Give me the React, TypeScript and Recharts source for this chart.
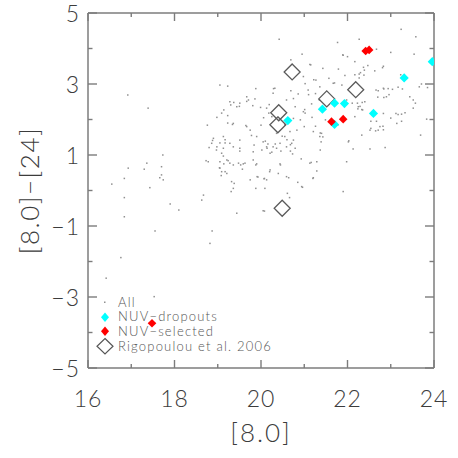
import { Legend, Scatter, ScatterChart, XAxis, YAxis } from "recharts";

// [8.0] vs [8.0]-[24] colour
const allPoints = [
  [20.42, 4.26], [21.77, 4.17], [22.27, 4.26], [23.24, 4.54], [23.58, 4.33], [20.95, 3.84], [23.54, 3.84], [23.0, 3.89],
  [21.89, 3.82], [22.0, 3.77], [22.67, 3.98], [22.17, 3.63], [20.69, 3.68], [21.13, 3.55], [22.81, 3.46], [21.79, 3.42],
  [21.43, 3.44], [22.39, 3.39], [22.3, 3.32], [20.98, 3.21], [21.27, 3.11], [21.57, 3.16], [21.94, 3.24], [22.38, 3.25],
  [19.05, 2.97], [19.23, 2.94], [19.88, 2.87], [20.32, 2.88], [20.28, 2.74], [20.69, 2.81], [20.86, 2.72], [21.09, 2.83],
  [21.36, 2.92], [21.67, 3.02], [21.87, 2.97], [22.66, 2.83], [22.83, 2.88], [22.94, 2.87], [23.04, 2.85], [23.17, 2.91],
  [23.85, 2.9], [22.7, 2.63], [22.9, 2.64], [23.52, 2.55], [19.67, 2.64], [19.71, 2.55], [19.86, 2.58], [19.28, 2.5],
  [19.51, 2.46], [19.44, 2.36], [19.14, 2.27], [18.98, 2.06], [19.36, 1.89], [18.76, 1.84], [17.39, 2.32], [16.92, 2.69],
  [19.99, 2.34], [20.13, 2.32], [20.59, 2.55], [20.79, 2.36], [20.98, 2.22], [21.17, 2.44], [21.35, 2.55], [21.98, 2.55],
  [22.25, 2.36], [22.35, 2.27], [22.4, 2.5], [22.83, 2.17], [23.12, 2.17], [23.25, 2.15], [23.33, 2.19], [23.52, 2.32],
  [23.14, 1.89], [22.75, 1.8], [22.71, 1.7], [22.54, 1.75], [22.33, 1.56], [22.52, 1.7], [23.69, 1.56], [22.87, 1.21],
  [22.52, 1.17], [22.13, 1.17], [22.02, 1.37], [21.98, 0.81], [21.9, -0.03], [21.4, 1.61], [21.36, 1.52], [21.39, 1.37],
  [21.21, 1.66], [21.0, 1.8], [21.29, 0.81], [21.13, 0.77], [21.21, 0.36], [20.94, 0.11], [20.61, -0.08], [20.59, 0.39],
  [20.4, 0.48], [20.44, 0.75], [20.21, 0.58], [20.13, 0.3], [19.91, 0.39], [19.75, 0.3], [19.9, 0.75], [19.59, 0.75],
  [19.48, 0.77], [19.36, 0.72], [19.28, 0.77], [19.21, 0.86], [19.21, 0.48], [19.09, 0.53], [19.05, 0.63], [19.32, 0.25],
  [19.36, 0.06], [20.09, 0.06], [19.82, 0.86], [19.67, 1.8], [19.75, 1.7], [19.9, 1.52], [20.05, 1.37], [20.13, 1.23],
  [20.21, 1.05], [20.36, 1.19], [20.55, 1.52], [20.59, 1.23], [20.71, 1.33], [20.79, 1.19], [20.75, 1.42], [20.44, 1.33],
  [20.28, 1.23], [20.02, 1.14], [19.82, 1.09], [19.51, 1.19], [19.36, 1.23], [19.13, 1.19], [19.09, 1.05], [18.9, 1.47],
  [18.86, 1.33], [18.98, 1.23], [19.13, 1.52], [19.28, 1.33], [19.51, 1.42], [18.78, 0.81], [19.05, 0.81], [18.67, -0.13],
  [18.63, -0.27], [19.44, -0.64], [20.05, -0.57], [17.9, -0.38], [18.1, -0.55], [17.7, 0.44], [17.74, 0.3], [17.73, 1.0],
  [17.7, 0.67], [17.36, 0.77], [17.3, 0.6], [17.43, 0.08], [16.93, 0.63], [16.84, 0.34], [16.55, 0.18], [16.84, -0.2],
  [16.84, -0.74], [20.55, 1.85], [20.67, 1.66], [20.83, 1.7], [20.36, 1.61], [20.25, 2.08], [20.75, 2.03], [22.17, 2.08],
  [23.44, 2.64], [23.66, 2.92], [17.55, -1.14], [18.87, -1.14], [18.82, -1.49], [16.76, -1.89], [16.42, -2.47],
  [17.53, -2.99], [17.66, 0.36], [18.8, 1.21], [18.97, 1.14], [19.51, 1.11], [19.84, 1.28], [19.13, 0.97], [18.73, 0.84],
  [19.24, 0.84], [19.14, 0.75], [19.53, 0.72], [19.63, 0.77], [19.88, 0.72], [19.04, 0.64], [19.17, 0.53], [19.57, 0.6],
  [19.08, 0.42], [19.93, 0.38], [20.07, 0.33], [19.38, 0.2], [19.31, -0.03], [19.88, 0.06], [20.14, 1.19], [20.25, 1.08],
  [20.46, 1.11], [20.68, 1.11], [20.73, 1.03], [21.37, 1.14], [20.93, 0.89], [21.16, 0.79], [20.45, 0.72], [20.2, 0.53],
  [21.29, 0.55], [20.08, 0.34], [20.64, 0.36], [21.2, 0.34], [20.85, 0.23], [20.96, 0.09], [20.66, -0.2], [20.08, -0.58],
  [19.37, 2.48], [19.67, 2.51], [19.3, 2.41], [19.5, 2.37], [19.81, 2.39], [19.09, 2.18], [19.23, 2.11], [20.06, 2.05],
  [19.23, 1.9], [19.34, 1.86], [19.65, 1.83], [20.0, 1.84], [19.78, 1.55], [18.88, 1.41], [19.17, 1.43], [19.05, 1.34],
  [19.17, 1.34], [21.9, 3.81], [21.15, 3.54], [21.7, 3.03], [21.02, 3.01], [21.22, 3.12], [20.29, 2.87], [20.75, 2.59],
  [21.1, 2.7], [21.26, 2.73], [21.01, 2.28], [20.19, 2.42], [20.18, 2.18], [20.91, 1.99], [21.02, 2.18], [21.18, 2.06],
  [21.49, 1.99], [21.26, 1.81], [21.37, 1.62], [21.43, 1.51], [20.6, 1.43], [20.49, 1.53], [20.1, 1.39], [20.16, 1.31],
  [20.33, 1.31], [20.68, 1.29], [22.03, 1.4], [21.78, 1.85], [22.47, 3.52], [22.83, 3.5], [22.37, 3.47], [22.63, 3.37],
  [22.17, 3.26], [22.27, 3.28], [22.27, 3.17], [23.23, 3.26], [22.84, 2.86], [23.27, 2.86], [22.71, 2.81], [22.96, 2.7],
  [23.71, 3.0], [22.84, 2.62], [22.11, 2.46], [22.23, 2.46], [22.34, 2.48], [22.29, 2.37], [22.24, 2.3], [22.33, 2.28],
  [23.57, 2.46], [23.17, 2.14], [23.0, 2.04], [23.25, 1.95], [22.54, 1.95], [22.67, 1.95], [22.82, 1.81], [23.83, 2.01],
  [22.65, 1.68], [22.83, 1.71],
];

const dropouts = [
  [20.62, 1.97], [21.42, 2.29], [21.7, 2.46], [21.93, 2.45], [21.7, 1.86], [22.6, 2.17], [23.31, 3.17], [23.96, 3.63],
];

const selected = [[21.63, 1.94], [21.9, 2.01], [22.42, 3.93], [22.5, 3.96], [17.48, -3.74]];

const rigopoulou = [
  [20.72, 3.34], [20.41, 2.19], [20.39, 1.85], [20.49, -0.5], [21.52, 2.58], [22.19, 2.84],
];

const xTicks = [16, 17, 18, 19, 20, 21, 22, 23, 24];
const xLabeled = [16, 18, 20, 22, 24];
const yTicks = [-5, -4, -3, -2, -1, 0, 1, 2, 3, 4, 5];
const yLabeled = [-5, -3, -1, 1, 3, 5];

const legendLabels = ["All", "NUV\u2212dropouts", "NUV\u2212selected", "Rigopoulou et al. 2006"];

const toXY = (pts: number[][]) => pts.map(([x, y]) => ({ x, y }));

const font = "Lato, 'DejaVu Sans', sans-serif";
const frame = "#7c7c7c";
const ink = "#3c3c3c";

const fmt = (v: number) => (v < 0 ? `\u2212${-v}` : `${v}`);

function BottomTick(props: any) {
  const { x, y, payload } = props;
  const major = xLabeled.includes(payload.value);
  return (
    <g>
      <line x1={x} y1={y} x2={x} y2={y - (major ? 8 : 4)} stroke={frame} strokeWidth={1.4} />
      {major && (
        <text x={x} y={y + 39} textAnchor="middle" fontFamily={font} fontWeight={300} fontSize={23} fill={ink} letterSpacing={1}>
          {fmt(payload.value)}
        </text>
      )}
    </g>
  );
}

function TopTick(props: any) {
  const { x, y, payload } = props;
  const major = xLabeled.includes(payload.value);
  return <line x1={x} y1={y} x2={x} y2={y + (major ? 8 : 4)} stroke={frame} strokeWidth={1.4} />;
}

function LeftTick(props: any) {
  const { x, y, payload } = props;
  const major = yLabeled.includes(payload.value);
  return (
    <g>
      <line x1={x} y1={y} x2={x + (major ? 9 : 4.5)} y2={y} stroke={frame} strokeWidth={1.4} />
      {major && (
        <text x={x - 8} y={y + 8.5} textAnchor="end" fontFamily={font} fontWeight={300} fontSize={23} fill={ink} letterSpacing={1}>
          {fmt(payload.value)}
        </text>
      )}
    </g>
  );
}

function RightTick(props: any) {
  const { x, y, payload } = props;
  const major = yLabeled.includes(payload.value);
  return <line x1={x} y1={y} x2={x - (major ? 9 : 4.5)} y2={y} stroke={frame} strokeWidth={1.4} />;
}

const diamond = (r: number, fill: string, stroke = "none", sw = 0) => (p: any) => (
  <path
    d={`M${p.cx},${p.cy - r}L${p.cx + r},${p.cy}L${p.cx},${p.cy + r}L${p.cx - r},${p.cy}Z`}
    fill={fill}
    stroke={stroke}
    strokeWidth={sw}
  />
);

const dotShape = (p: any) => <rect x={p.cx - 0.75} y={p.cy - 0.75} width={1.5} height={1.5} fill="#909090" />;

function LegendBox() {
  const symbols = [
    <rect key="a" x={10} y={6.5} width={1.5} height={1.5} fill="#909090" />,
    <path key="b" d="M11,2.5L15,7.25L11,12L7,7.25Z" fill="#00ffff" />,
    <path key="c" d="M11,2.5L15,7.25L11,12L7,7.25Z" fill="#ff0000" />,
    <path key="d" d="M11,-0.5L19,7.25L11,15L3,7.25Z" fill="none" stroke="#555" strokeWidth={1.2} />,
  ];
  return (
    <div style={{ fontFamily: font, fontWeight: 300, fontSize: 13, lineHeight: "13px", color: "#555", letterSpacing: 1.2 }}>
      {legendLabels.map((label, i) => (
        <div key={label} style={{ display: "flex", alignItems: "center", height: 14.6, whiteSpace: "nowrap" }}>
          <svg width={22} height={14.5} style={{ overflow: "visible" }}>
            {symbols[i]}
          </svg>
          <span style={{ marginLeft: 2 }}>{label}</span>
        </div>
      ))}
    </div>
  );
}

export default function App() {
  return (
    <div style={{ position: "absolute", left: 0, top: 0, background: "#fff" }}>
      <ScatterChart width={458} height={458} margin={{ top: 12, right: 23, bottom: 0, left: 0 }}>
        <XAxis
          xAxisId="b"
          dataKey="x"
          type="number"
          domain={[16, 24]}
          ticks={xTicks}
          allowDataOverflow
          interval={0}
          height={90}
          tickSize={0}
          tickMargin={0}
          tick={<BottomTick />}
          axisLine={{ stroke: frame, strokeWidth: 1.5 }}
          label={{
            content: (p: any) => (
              <text
                x={p.viewBox.x + p.viewBox.width / 2}
                y={p.viewBox.y + 74}
                textAnchor="middle"
                fontFamily={font}
                fontWeight={300}
                fontSize={26}
                fill={ink}
                letterSpacing={2}
              >
                [8.0]
              </text>
            ),
          }}
        />
        <XAxis
          xAxisId="t"
          orientation="top"
          dataKey="x"
          type="number"
          domain={[16, 24]}
          ticks={xTicks}
          allowDataOverflow
          interval={0}
          height={1}
          tickSize={0}
          tickMargin={0}
          tick={<TopTick />}
          axisLine={{ stroke: frame, strokeWidth: 1.5 }}
        />
        <YAxis
          yAxisId="l"
          dataKey="y"
          type="number"
          domain={[-5, 5]}
          ticks={yTicks}
          allowDataOverflow
          interval={0}
          width={88}
          tickSize={0}
          tickMargin={0}
          tick={<LeftTick />}
          axisLine={{ stroke: frame, strokeWidth: 1.5 }}
          label={{
            content: (p: any) => {
              const cx = p.viewBox.x + 30;
              const cy = p.viewBox.y + p.viewBox.height / 2;
              return (
                <text
                  x={cx}
                  y={cy + 9}
                  transform={`rotate(-90 ${cx} ${cy})`}
                  textAnchor="middle"
                  fontFamily={font}
                  fontWeight={300}
                  fontSize={26}
                  fill={ink}
                  letterSpacing={1.5}
                >
                  [8.0]{"\u2212"}[24]
                </text>
              );
            },
          }}
        />
        <YAxis
          yAxisId="r"
          orientation="right"
          dataKey="y"
          type="number"
          domain={[-5, 5]}
          ticks={yTicks}
          allowDataOverflow
          interval={0}
          width={1}
          tickSize={0}
          tickMargin={0}
          tick={<RightTick />}
          axisLine={{ stroke: frame, strokeWidth: 1.5 }}
        />
        <Scatter xAxisId="t" yAxisId="r" data={toXY(allPoints)} shape={() => <g />} isAnimationActive={false} legendType="none" />
        <Scatter xAxisId="b" yAxisId="l" name="All" data={toXY(allPoints)} shape={dotShape} isAnimationActive={false} />
        <Scatter
          xAxisId="b"
          yAxisId="l"
          name="Rigopoulou et al. 2006"
          data={toXY(rigopoulou)}
          shape={diamond(8, "none", "#5a5a5a", 1.3)}
          isAnimationActive={false}
        />
        <Scatter xAxisId="b" yAxisId="l" name="NUV-dropouts" data={toXY(dropouts)} shape={diamond(4.6, "#00ffff")} isAnimationActive={false} />
        <Scatter xAxisId="b" yAxisId="l" name="NUV-selected" data={toXY(selected)} shape={diamond(4.3, "#ff0000")} isAnimationActive={false} />
        <Legend
          layout="vertical"
          align="center"
          verticalAlign="middle"
          wrapperStyle={{ left: 94, top: 295, width: "auto" }}
          content={() => <LegendBox />}
        />
      </ScatterChart>
    </div>
  );
}
